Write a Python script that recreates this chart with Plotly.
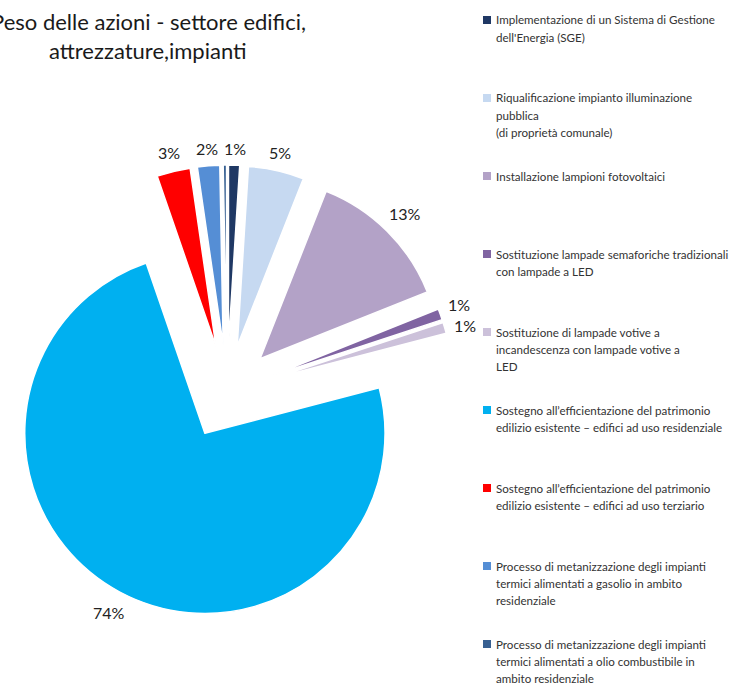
import math
import plotly.graph_objects as go

# Share of each action (percent) in the buildings / equipment / plants sector
actions = [
    "Implementazione di un Sistema di Gestione<br>dell'Energia (SGE)",
    "Riqualificazione impianto illuminazione<br>pubblica<br>(di proprietà comunale)",
    "Installazione lampioni fotovoltaici",
    "Sostituzione lampade semaforiche tradizionali<br>con lampade a LED",
    "Sostituzione di lampade votive a<br>incandescenza con lampade votive a<br>LED",
    "Sostegno all’efficientazione del patrimonio<br>edilizio esistente – edifici ad uso residenziale",
    "Sostegno all’efficientazione del patrimonio<br>edilizio esistente – edifici ad uso terziario",
    "Processo di metanizzazione degli impianti<br>termici alimentati a gasolio in ambito<br>residenziale",
    "Processo di metanizzazione degli impianti<br>termici alimentati a olio combustibile in<br>ambito residenziale",
]
shares = [1, 5, 13, 1, 1, 74, 3, 2, 0.3]
slice_colors = [
    "#1F3864", "#C6D9F1", "#B3A2C7", "#8064A2", "#CCC1DA",
    "#00B0F0", "#FF0000", "#558ED5", "#376092",
]
title_lines = ["Peso delle azioni - settore edifici,", "attrezzature,impianti"]

W, H = 733, 686
FONT = "Lato"
LABEL_SIZE = 16


def fx(px):
    return px / W


def fy(py):
    return 1 - py / H


total = sum(shares)
pct_labels = [f"{v / total * 100:.0f}%" if v / total >= 0.005 else "" for v in shares]

# Exploded pie: centre and half-size of the pie box in pixels
cx, cy, half = 227, 392, 227
PULL = 0.26
radius = half / (1 + PULL)
outer = radius * (1 + PULL)

fig = go.Figure(
    go.Pie(
        labels=actions,
        values=shares,
        textinfo="none",
        sort=False,
        direction="clockwise",
        rotation=0,
        pull=PULL,
        marker=dict(colors=slice_colors, line=dict(color="white", width=1.5)),
        domain=dict(x=[fx(cx - half), fx(cx + half)], y=[fy(cy + half), fy(cy - half)]),
        showlegend=False,
        hoverinfo="label+percent",
    )
)

# Percentage labels at the outer end of each slice (bisector direction),
# spread apart where neighbouring labels would overlap
items = []
acc = 0.0
for v, txt in zip(shares, pct_labels):
    mid = (acc + v / 2) / total * 360.0
    acc += v
    if txt:
        w = LABEL_SIZE * (0.58 * (len(txt) - 1) + 0.82)
        h = LABEL_SIZE * 1.2
        items.append(dict(text=txt, ang=mid, w=w, h=h))


def place(it):
    a = math.radians(it["ang"])
    s, c = math.sin(a), math.cos(a)
    dist = outer + abs(s) * it["w"] / 2 + abs(c) * it["h"] / 2 + 7
    return cx + dist * s, cy - dist * c


for _ in range(400):
    moved = False
    for i in range(len(items)):
        a, b = items[i], items[(i + 1) % len(items)]
        (xa, ya), (xb, yb) = place(a), place(b)
        if abs(xa - xb) < (a["w"] + b["w"]) / 2 + 2 and abs(ya - yb) < (a["h"] + b["h"]) / 2:
            a["ang"] -= 0.25
            b["ang"] += 0.25
            moved = True
    if not moved:
        break

annotations = []
shapes = []

for it in items:
    x, y = place(it)
    annotations.append(dict(
        text=it["text"], x=fx(x), y=fy(y), xref="paper", yref="paper",
        xanchor="center", yanchor="middle", showarrow=False,
        font=dict(family=FONT, size=LABEL_SIZE, color="#222222"),
    ))

# Two-line title, centred
for i, line in enumerate(title_lines):
    annotations.append(dict(
        text=line, x=fx(148), y=fy(22 + 28 * i), xref="paper", yref="paper",
        xanchor="center", yanchor="middle", showarrow=False,
        font=dict(family=FONT, size=22, color="#1a1a1a"),
    ))

# Legend on the right: colour square + wrapped label
item_top, item_step, line_step = 20, 78, 17
for k, (name, col) in enumerate(zip(actions, slice_colors)):
    y0 = item_top + item_step * k
    shapes.append(dict(
        type="rect", xref="paper", yref="paper",
        x0=fx(483), x1=fx(491), y0=fy(y0 + 4), y1=fy(y0 - 4),
        fillcolor=col, line=dict(width=0),
    ))
    for j, line in enumerate(name.split("<br>")):
        annotations.append(dict(
            text=line, x=fx(494), y=fy(y0 + line_step * j), xref="paper", yref="paper",
            xanchor="left", yanchor="middle", showarrow=False,
            font=dict(family=FONT, size=11.6, color="#333333"),
        ))

fig.update_layout(
    width=W, height=H,
    margin=dict(l=0, r=0, t=0, b=0, autoexpand=False),
    paper_bgcolor="white", plot_bgcolor="white",
    annotations=annotations, shapes=shapes,
    showlegend=False,
)

fig.write_html("out.html")
